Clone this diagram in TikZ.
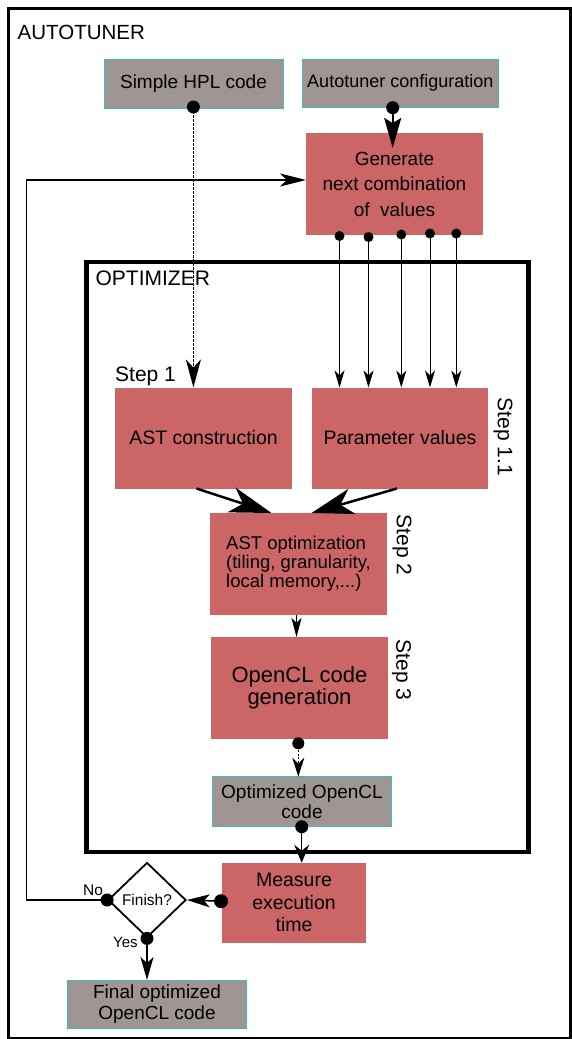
\documentclass[tikz,border=0pt]{standalone}
\usepackage{fontspec}
\setmainfont{Liberation Sans}
\usetikzlibrary{arrows.meta,shapes.geometric,calc}
\definecolor{boxred}{RGB}{204,102,102}
\definecolor{boxgray}{RGB}{159,150,148}
\definecolor{boxcyan}{RGB}{60,190,190}
\tikzset{
  redbox/.style={fill=boxred, draw=none, inner sep=0pt, outer sep=0pt, align=center},
  graybox/.style={fill=boxgray, draw=boxcyan, line width=1pt, inner sep=0pt, outer sep=0pt, align=center},
  dotnode/.style={circle, fill=black, inner sep=0pt, minimum size=13pt},
  smalldot/.style={circle, fill=black, inner sep=0pt, minimum size=10pt},
  steplabel/.style={font=\fontsize{21}{24}\selectfont, inner sep=0pt},
  titlelabel/.style={font=\fontsize{20.5}{24}\selectfont, inner sep=0pt, anchor=base west},
  smalllabel/.style={font=\fontsize{15.5}{18}\selectfont, inner sep=0pt, anchor=base west},
  thinarrow/.style={line width=1pt, -{Stealth[length=17pt,width=10pt,inset=5pt]}},
  bigarrow/.style={line width=2.5pt, -{Stealth[length=42pt,width=26pt,inset=12pt]}},
  midarrow/.style={line width=1.5pt, -{Stealth[length=23pt,width=13pt,inset=6pt]}},
}
\begin{document}
\begin{tikzpicture}[x=1pt,y=-1pt]
\useasboundingbox (0,0) rectangle (571,1039);
% frames
\draw[line width=3pt] (8.3,8) rectangle (570,1038.5);
\draw[line width=4.5pt] (86.5,262) rectangle (528.3,852);
\node[titlelabel] (autotitle) at (17.5,39) {AUTOTUNER};
\node[titlelabel, font=\fontsize{21}{24}\selectfont] (opttitle) at (95.4,285) {OPTIMIZER};

% boxes
\node[graybox, minimum width=179pt, minimum height=49pt, font=\fontsize{19}{22}\selectfont] (hpl) at (193.5,83.5) {Simple HPL code};
\node[graybox, minimum width=195.4pt, minimum height=48pt, font=\fontsize{18}{22}\selectfont] (conf) at (400.3,83) {Autotuner configuration};
\node[redbox, minimum width=177pt, minimum height=102pt, font=\fontsize{19}{25.5}\selectfont] (gen) at (394.5,184) {Generate\\next combination\\of~~values};
\node[redbox, minimum width=177pt, minimum height=101pt, font=\fontsize{19.5}{22}\selectfont] (astc) at (203.5,438) {AST construction};
\node[redbox, minimum width=176pt, minimum height=101pt, font=\fontsize{19.5}{22}\selectfont] (param) at (400,438) {Parameter values};
\node[redbox, minimum width=177pt, minimum height=102pt, align=left, font=\fontsize{18.5}{19}\selectfont] (asto) at (298.5,564) {AST optimization\\(tiling, granularity,\\local memory,...)};
\node[redbox, minimum width=177pt, minimum height=102pt, font=\fontsize{22}{20.5}\selectfont] (ocl) at (299.5,688) {OpenCL code\\generation};
\node[graybox, minimum width=179.5pt, minimum height=50pt, font=\fontsize{19}{19.5}\selectfont] (oocl) at (302,801.7) {Optimized OpenCL\\code};
\node[redbox, minimum width=144pt, minimum height=80pt, font=\fontsize{19.5}{22.5}\selectfont] (meas) at (294,902.7) {Measure\\execution\\time};
\node[graybox, minimum width=179pt, minimum height=48pt, font=\fontsize{19}{21}\selectfont] (fin) at (157,1004) {Final optimized\\OpenCL code};
\node[diamond, draw, fill=white, line width=1.8pt, inner sep=0pt, minimum width=78pt, minimum height=75pt, font=\fontsize{15.5}{18}\selectfont] (dia) at (147,900) {Finish?};

% step labels
\node[steplabel, anchor=base west] (s1) at (115,381) {Step 1};
\node[steplabel, rotate=-90] (s11) at (503,437) {Step 1.1};
\node[steplabel, rotate=-90] (s2) at (402,545) {Step 2};
\node[steplabel, rotate=-90] (s3) at (401.5,670) {Step 3};
\node[smalllabel] (nolab) at (83,895) {No};
\node[smalllabel, font=\fontsize{15}{18}\selectfont] (yeslab) at (113,947) {Yes};

% dot positions
\coordinate (dhpl) at (193.4,107);
\coordinate (dconf) at (392.7,107.7);
\coordinate (g1) at (339.5,236);
\coordinate (g2) at (368.5,237);
\coordinate (g3) at (401.3,234.5);
\coordinate (g4) at (430,233.5);
\coordinate (g5) at (456.3,233.5);
\coordinate (docl) at (298.3,743.3);
\coordinate (doocl) at (301.7,826.7);
\coordinate (dmeas) at (221,901.2);
\coordinate (fb) at (26.7,180);

% connectors
\draw[line width=1.3pt, dash pattern=on 2.5pt off 1.5pt, -{Stealth[length=28pt,width=15pt,inset=8pt]}] (dhpl) -- (dhpl |- astc.north);
\draw[line width=2pt, shorten >=-15pt, -{Stealth[length=30pt,width=17pt,inset=5pt]}] (dconf) -- (dconf |- gen.north);
\foreach \g in {g1,g2,g3,g4,g5}{
  \draw[thinarrow] (\g) -- (\g |- param.north);
}
\draw[line width=1.3pt, -{Stealth[length=26pt,width=13pt,inset=7pt]}] (dia.west) -- (dia.west -| fb) -- (fb) -- (fb -| gen.west);
\draw[bigarrow] ($(astc.south)+(-7,0)$) -- ($(asto.north)+(-27,0)$);
\draw[bigarrow] ($(param.south)+(-3,0)$) -- ($(asto.north)+(13,0)$);
\draw[line width=1pt, -{Stealth[length=19pt,width=10pt,inset=5pt]}] ($(asto.south)+(-2,0)$) -- ($(ocl.north)+(-3,0)$);
\draw[line width=1.3pt, dash pattern=on 2pt off 1.5pt, -{Stealth[length=19pt,width=12pt,inset=6pt]}] (docl) -- (docl |- oocl.north);
\draw[line width=1.2pt, -{Stealth[length=18pt,width=15pt,inset=6pt]}] (doocl) -- (doocl |- meas.north);
\draw[midarrow] (dmeas) -- (dia.east);
\draw[midarrow] (dia.south) -- (dia.south |- fin.north);

% dots
\node[dotnode] (dothpl) at (dhpl) {};
\node[dotnode] (dotconf) at (dconf) {};
\node[smalldot] (dotg1) at (g1) {};
\node[smalldot] (dotg2) at (g2) {};
\node[smalldot] (dotg3) at (g3) {};
\node[smalldot] (dotg4) at (g4) {};
\node[smalldot] (dotg5) at (g5) {};
\node[dotnode, minimum size=12pt] (dotocl) at (docl) {};
\node[dotnode] (dotoocl) at (doocl) {};
\node[dotnode, minimum size=14pt] (dotmeas) at (dmeas) {};
\node[dotnode] (dotno) at (dia.west) {};
\node[dotnode] (dotyes) at (dia.south) {};
\end{tikzpicture}
\end{document}
